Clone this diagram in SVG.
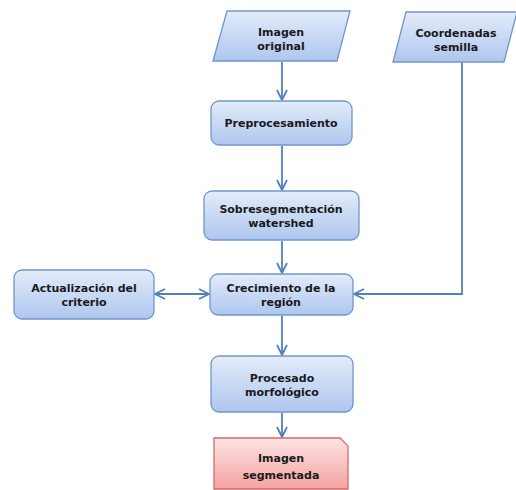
<svg xmlns="http://www.w3.org/2000/svg" width="516" height="490" viewBox="0 0 516 490">
<defs>
<linearGradient id="gb" x1="0" y1="0" x2="0" y2="1">
<stop offset="0" stop-color="#e3ecfa"/>
<stop offset="1" stop-color="#aec6ee"/>
</linearGradient>
<linearGradient id="gr" x1="0" y1="0" x2="0" y2="1">
<stop offset="0" stop-color="#fde4e4"/>
<stop offset="1" stop-color="#f4a2a2"/>
</linearGradient>
<marker id="ah" viewBox="0 0 12 12" refX="11" refY="6" markerWidth="12" markerHeight="12" markerUnits="userSpaceOnUse" orient="auto-start-reverse">
<path d="M1,1 L11,6 L1,11" fill="none" stroke="#4f81bd" stroke-width="1.8"/>
</marker>
</defs>
<style>
.n{fill:url(#gb);stroke:#7196cc;stroke-width:1.3}
.r{fill:url(#gr);stroke:#d46a6a;stroke-width:1.3}
.t{font-family:"DejaVu Sans",sans-serif;font-weight:bold;font-size:11px;fill:#1a1a1a;text-anchor:middle}
.c{fill:none;stroke:#4f81bd;stroke-width:1.8}
</style>
<rect width="516" height="490" fill="#ffffff"/>
<g id="connectors">
<path class="c" d="M282,62 V100" marker-end="url(#ah)"/>
<path class="c" d="M282,146 V190" marker-end="url(#ah)"/>
<path class="c" d="M282,241 V273" marker-end="url(#ah)"/>
<path class="c" d="M282,316 V355" marker-end="url(#ah)"/>
<path class="c" d="M282,413 V437" marker-end="url(#ah)"/>
<path class="c" d="M155,294 H209" marker-start="url(#ah)" marker-end="url(#ah)"/>
<path class="c" d="M462,62 V294 H354" marker-end="url(#ah)"/>
</g>
<g id="imagen_original">
<polygon class="n" points="227,11 350,11 337,61 213,61"/>
<text class="t" x="281" y="36">Imagen</text>
<text class="t" x="281" y="50">original</text>
</g>
<g id="coordenadas_semilla">
<polygon class="n" points="406,12 517,12 504,62 393,62"/>
<text class="t" x="456" y="37">Coordenadas</text>
<text class="t" x="456" y="51">semilla</text>
</g>
<g id="preprocesamiento">
<rect class="n" x="211" y="101" width="141" height="44" rx="8"/>
<text class="t" x="281" y="127">Preprocesamiento</text>
</g>
<g id="sobresegmentacion">
<rect class="n" x="204" y="191" width="155" height="49" rx="8"/>
<text class="t" x="281" y="213">Sobresegmentación</text>
<text class="t" x="281" y="227">watershed</text>
</g>
<g id="crecimiento">
<rect class="n" x="210" y="274" width="143" height="41" rx="8"/>
<text class="t" x="281" y="292">Crecimiento de la</text>
<text class="t" x="281" y="306">región</text>
</g>
<g id="actualizacion">
<rect class="n" x="14" y="270" width="140" height="49" rx="8"/>
<text class="t" x="84" y="292">Actualización del</text>
<text class="t" x="84" y="306">criterio</text>
</g>
<g id="procesado">
<rect class="n" x="211" y="356" width="142" height="56" rx="8"/>
<text class="t" x="282" y="382">Procesado</text>
<text class="t" x="282" y="396">morfológico</text>
</g>
<g id="imagen_segmentada">
<path class="r" d="M214,438 H340 L348,446 V489 H214 Z"/>
<text class="t" x="281" y="462">Imagen</text>
<text class="t" x="281" y="479">segmentada</text>
</g>
</svg>
